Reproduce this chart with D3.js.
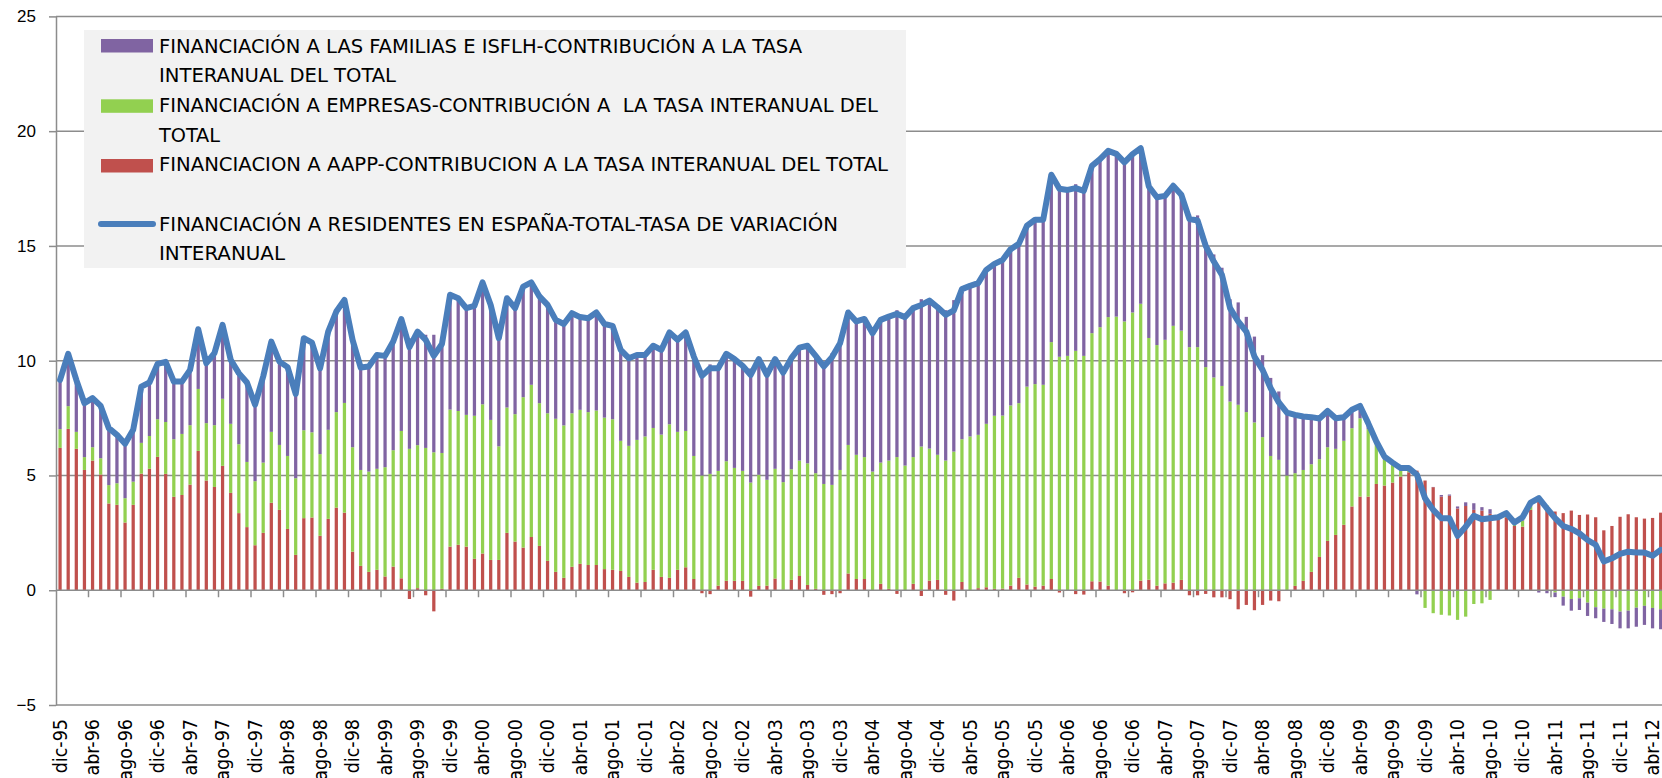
<!DOCTYPE html>
<html>
<head>
<meta charset="utf-8">
<script src="https://cdn.jsdelivr.net/npm/d3@7"></script>
<style>
  body { margin: 0; background: #fff; }
  svg { display: block; }
  text { font-family: "DejaVu Sans Condensed", "Liberation Sans Narrow", "Arial Narrow", sans-serif; }
</style>
</head>
<body>
<script>
// meses (dic-95 .. may-12) y etiquetas del eje
var monthNames = ["ene", "feb", "mar", "abr", "may", "jun", "jul", "ago", "sep", "oct", "nov", "dic"];
var tickLabels = ["dic-95","abr-96","ago-96","dic-96","abr-97","ago-97","dic-97","abr-98","ago-98","dic-98",
  "abr-99","ago-99","dic-99","abr-00","ago-00","dic-00","abr-01","ago-01","dic-01","abr-02","ago-02","dic-02",
  "abr-03","ago-03","dic-03","abr-04","ago-04","dic-04","abr-05","ago-05","dic-05","abr-06","ago-06","dic-06",
  "abr-07","ago-07","dic-07","abr-08","ago-08","dic-08","abr-09","ago-09","dic-09","abr-10","ago-10","dic-10",
  "abr-11","ago-11","dic-11","abr-12"];
var yTicks = [-5, 0, 5, 10, 15, 20, 25];

// AAPP (rojo)
var aapp = [6.20,7.03,6.16,5.24,5.65,5.04,3.78,3.72,2.95,3.72,5.08,5.29,5.81,5.07,4.07,4.15,4.60,6.07,4.78,4.50,5.42,4.24,3.36,2.75,1.96,2.50,3.81,3.50,
  2.67,1.54,3.14,3.17,2.37,3.11,3.60,3.38,1.68,1.06,0.80,0.89,0.60,1.03,0.52,-0.38,0.09,-0.22,-0.92,0.06,1.90,1.98,1.90,1.37,1.60,1.32,1.32,2.50,2.12,
  1.86,2.32,1.93,1.28,0.80,0.54,1.02,1.15,1.10,1.10,0.92,0.89,0.84,0.58,0.33,0.36,0.89,0.58,0.54,0.89,1.00,0.49,-0.13,-0.17,0.20,0.41,0.41,0.41,
  -0.28,0.19,0.20,0.51,0.02,0.45,0.62,0.23,0.06,-0.20,-0.17,-0.13,0.73,0.49,0.49,0.00,0.28,0.06,-0.16,0.00,0.28,-0.25,0.42,0.45,-0.20,-0.45,0.36,0.00,
  0.09,0.13,0.06,0.07,0.20,0.54,0.25,0.16,0.20,0.49,-0.10,-0.02,-0.17,-0.19,0.39,0.38,0.20,0.00,-0.13,-0.09,0.42,0.46,0.20,0.30,0.33,0.45,-0.22,-0.22,-0.16,
  -0.31,-0.31,-0.39,-0.83,-0.64,-0.87,-0.64,-0.45,-0.48,0.00,0.19,0.41,0.80,1.45,2.15,2.41,2.85,3.65,4.08,4.08,4.63,4.56,4.69,4.95,5.14,5.21,4.78,4.49,
  4.08,4.12,3.56,3.67,3.50,3.47,3.33,3.06,3.18,2.80,2.77,3.50,3.86,3.50,3.43,3.36,3.47,3.28,3.30,3.18,2.61,2.80,3.20,3.31,3.18,3.12,3.15,3.38];

// empresas (verde)
var empresas = [0.82,0.99,0.74,0.56,0.58,0.71,0.80,0.94,1.06,1.01,1.34,1.43,1.64,2.26,2.51,2.66,2.59,2.70,2.50,2.69,2.92,3.01,3.00,2.84,2.79,3.06,3.09,2.83,
  3.18,3.34,3.83,3.71,3.56,3.88,4.16,4.78,4.55,4.18,4.37,4.40,4.76,5.07,6.42,6.16,6.23,6.20,6.01,5.92,5.97,5.83,5.74,6.23,6.50,6.10,4.95,5.46,5.55,
  6.55,6.63,6.22,6.43,6.67,6.64,6.69,6.71,6.66,6.73,6.60,6.56,5.67,5.71,6.22,6.34,6.18,6.20,6.69,6.01,5.94,5.36,5.00,5.07,5.00,5.21,4.92,4.79,
  4.69,4.84,4.61,4.78,4.69,4.82,5.03,5.30,5.04,4.63,4.59,5.24,5.60,5.41,5.31,5.17,5.28,5.59,5.80,5.43,5.52,6.26,5.75,5.45,5.65,6.04,6.22,6.70,
  6.68,7.12,7.54,7.54,7.85,7.61,8.62,8.82,8.75,10.32,10.17,10.21,10.43,10.21,10.81,11.08,11.70,11.92,11.71,12.10,12.06,10.53,10.48,10.61,11.19,10.86,10.59,10.59,9.72,
  9.27,8.90,8.22,8.08,7.76,7.31,6.67,5.85,5.68,5.00,4.91,4.83,4.69,4.26,4.08,3.75,3.66,3.41,3.41,2.94,1.78,1.12,0.77,0.26,0.15,0.00,-0.77,-1.00,
  -1.07,-1.10,-1.29,-1.15,-0.60,-0.57,-0.42,0.07,0.10,0.15,0.26,0.15,0.25,0.20,-0.10,-0.28,-0.38,-0.35,-0.54,-0.74,-0.80,-0.83,-0.93,-0.89,-0.76,-0.68,-0.77,-0.83];

// familias e ISFLH (morado)
var familias = [2.14,2.28,2.26,2.35,2.14,2.28,2.48,2.11,2.37,2.26,2.45,2.33,2.41,2.62,2.51,2.28,2.41,2.60,2.61,3.14,3.22,2.79,3.10,3.46,3.33,3.75,3.93,3.63,
  3.87,3.67,4.01,3.91,3.74,4.28,4.38,4.49,4.68,4.46,4.58,4.96,4.85,4.74,4.87,4.81,4.95,4.93,5.12,4.75,5.00,4.91,4.65,4.79,5.31,5.01,4.71,4.76,4.62,
  4.82,4.46,4.65,4.72,4.31,4.42,4.36,4.04,4.09,4.27,4.08,4.07,3.96,3.82,3.70,3.55,3.58,3.69,4.00,4.01,4.29,4.33,4.47,4.77,4.47,4.68,4.74,4.58,
  4.97,5.04,4.57,4.78,4.77,4.84,4.92,5.12,5.11,5.32,5.73,5.65,5.77,5.81,6.02,6.03,6.22,6.27,6.40,6.47,6.49,6.42,6.45,6.43,6.55,6.60,6.54,6.56,
  6.61,6.71,6.62,6.78,6.81,6.94,7.01,7.16,7.19,7.29,7.42,7.25,7.26,7.38,7.29,7.32,7.24,7.09,7.06,6.99,6.78,6.60,6.44,6.27,6.10,5.92,5.80,5.74,5.44,
  5.36,5.15,4.46,4.46,4.15,3.74,3.57,3.40,2.98,2.74,2.54,2.33,2.05,1.77,1.58,1.33,1.03,0.80,0.54,0.26,0.07,0.14,0.10,0.11,0.03,-0.18,0.00,0.01,
  0.07,0.05,0.09,0.16,0.29,0.15,0.20,0.05,0.08,0.00,0.15,0.17,-0.10,-0.13,-0.20,-0.39,-0.51,-0.51,-0.58,-0.48,-0.58,-0.64,-0.73,-0.77,-0.83,-0.83,-0.89,-0.87];

// total, tasa de variacion interanual (linea azul)
var total = [9.16,10.30,9.16,8.15,8.37,8.03,7.06,6.77,6.38,6.99,8.87,9.05,9.86,9.95,9.09,9.09,9.60,11.37,9.89,10.33,11.56,10.04,9.46,9.05,8.08,9.31,10.83,9.96,
  9.72,8.55,10.98,10.79,9.67,11.27,12.14,12.65,10.91,9.70,9.75,10.25,10.21,10.84,11.81,10.59,11.27,10.91,10.21,10.73,12.87,12.72,12.29,12.39,13.41,12.43,10.98,12.72,12.29,
  13.23,13.41,12.80,12.43,11.78,11.60,12.07,11.90,11.85,12.10,11.60,11.52,10.47,10.11,10.25,10.25,10.65,10.47,11.23,10.91,11.23,10.18,9.34,9.67,9.67,10.30,10.07,9.78,
  9.38,10.07,9.38,10.07,9.48,10.11,10.57,10.65,10.21,9.75,10.15,10.76,12.10,11.71,11.82,11.20,11.78,11.92,12.04,11.90,12.29,12.43,12.62,12.33,12.00,12.19,13.12,13.26,
  13.38,13.96,14.22,14.39,14.86,15.09,15.88,16.14,16.14,18.10,17.49,17.44,17.52,17.40,18.49,18.78,19.14,19.01,18.64,19.00,19.26,17.59,17.12,17.18,17.62,17.23,16.17,16.11,15.00,
  14.32,13.74,12.29,11.71,11.27,10.18,9.60,8.80,8.18,7.74,7.64,7.57,7.54,7.48,7.81,7.49,7.54,7.86,8.03,7.28,6.48,5.82,5.56,5.32,5.32,5.03,4.01,3.50,
  3.14,3.14,2.37,2.77,3.24,3.09,3.14,3.18,3.36,2.95,3.18,3.82,4.01,3.57,3.14,2.80,2.67,2.48,2.19,1.98,1.25,1.39,1.58,1.68,1.64,1.64,1.50,1.76];

var legendText = [
  ["FINANCIACIÓN A LAS FAMILIAS E ISFLH-CONTRIBUCIÓN A LA TASA", "INTERANUAL DEL TOTAL"],
  ["FINANCIACIÓN A EMPRESAS-CONTRIBUCIÓN A  LA TASA INTERANUAL DEL", "TOTAL"],
  ["FINANCIACION A AAPP-CONTRIBUCION A LA TASA INTERANUAL DEL TOTAL"],
  ["FINANCIACIÓN A RESIDENTES EN ESPAÑA-TOTAL-TASA DE VARIACIÓN", "INTERANUAL"]
];

// medidas
var svg_width = 1662, svg_height = 778;
var plot_left = 56, plot_top = 16.4, plot_bottom = 705;
var step = 8.125;
var grid_color = "#8c8c8c";
var colors = { aapp: "#C0504D", empresas: "#92D050", familias: "#8064A2", total: "#4A7EBB" };

var months = d3.timeMonth.range(new Date(1995, 11, 1), new Date(2012, 5, 1));
var cats = months.map(function(m) {
  return monthNames[m.getMonth()] + "-" + String(m.getFullYear()).slice(2);
});

var rows = cats.map(function(c, i) {
  return { cat: c, aapp: aapp[i], empresas: empresas[i], familias: familias[i], total: total[i] };
});

var svg = d3.select("body").append("svg")
  .attr("width", svg_width).attr("height", svg_height);

var x = d3.scaleBand().domain(cats)
  .range([plot_left, plot_left + cats.length * step])
  .paddingInner(0.6).paddingOuter(0.3);
var y = d3.scaleLinear().domain([-5, 25]).range([plot_bottom, plot_top]);

// lineas de division
svg.append("g").selectAll("line")
  .data(yTicks.filter(function(v) { return v !== 0; }))
  .enter().append("line")
  .attr("x1", plot_left).attr("x2", svg_width)
  .attr("y1", function(d) { return y(d); }).attr("y2", function(d) { return y(d); })
  .attr("stroke", grid_color).attr("stroke-width", 1.5);

// eje y
var yAxis = svg.append("g")
  .attr("transform", "translate(" + plot_left + ",0)")
  .call(d3.axisLeft(y).tickValues(yTicks).tickSize(7).tickSizeOuter(0).tickPadding(13));
yAxis.select(".domain").attr("stroke", grid_color).attr("stroke-width", 1.5);
yAxis.selectAll(".tick line").attr("stroke", grid_color).attr("stroke-width", 1.5);
yAxis.selectAll(".tick text")
  .style("font-family", "'Liberation Sans', Arial, sans-serif")
  .attr("font-size", 17).attr("fill", "#000");

// barras apiladas
var stack = d3.stack()
  .keys(["aapp", "empresas", "familias"])
  .offset(d3.stackOffsetDiverging);
var series = stack(rows);

svg.append("g").selectAll("g")
  .data(series)
  .enter().append("g")
  .attr("fill", function(s) { return colors[s.key]; })
  .selectAll("rect")
  .data(function(s) { return s; })
  .enter().append("rect")
  .attr("x", function(d) { return x(d.data.cat); })
  .attr("width", x.bandwidth())
  .attr("y", function(d) { return y(Math.max(d[0], d[1])); })
  .attr("height", function(d) { return Math.abs(y(d[0]) - y(d[1])); });

// eje x (linea del cero, marcas cada 4 meses)
svg.append("line")
  .attr("x1", plot_left).attr("x2", svg_width)
  .attr("y1", y(0)).attr("y2", y(0))
  .attr("stroke", grid_color).attr("stroke-width", 1.5);

var tickIdx = d3.range(4, cats.length, 4);
svg.append("g").selectAll("line")
  .data(tickIdx)
  .enter().append("line")
  .attr("x1", function(k) { return x.range()[0] + k * x.step(); })
  .attr("x2", function(k) { return x.range()[0] + k * x.step(); })
  .attr("y1", y(0)).attr("y2", y(0) + 7)
  .attr("stroke", grid_color).attr("stroke-width", 1.5);

svg.append("g").selectAll("text")
  .data(tickLabels)
  .enter().append("text")
  .attr("transform", function(d) {
    return "translate(" + (x(d) + x.bandwidth() / 2) + "," + 719 + ") rotate(-90)";
  })
  .attr("dy", "0.35em")
  .attr("text-anchor", "end")
  .attr("font-size", 19.5)
  .attr("fill", "#000")
  .text(function(d) { return d; });

// linea total
var line = d3.line()
  .x(function(d) { return x(d.cat) + x.bandwidth() / 2; })
  .y(function(d) { return y(d.total); });
svg.append("path")
  .datum(rows)
  .attr("d", line)
  .attr("fill", "none")
  .attr("stroke", colors.total)
  .attr("stroke-width", 6)
  .attr("stroke-linejoin", "round")
  .attr("stroke-linecap", "round");

// leyenda
var legend = svg.append("g");
legend.append("rect")
  .attr("x", 84).attr("y", 30).attr("width", 822).attr("height", 238)
  .attr("fill", "#f2f2f2");

var legendItems = [
  { key: "familias", top: 39, base: [53.3, 82], len: [643, 237] },
  { key: "empresas", top: 99.3, base: [111.7, 141.7], len: [719, 61] },
  { key: "aapp", top: 159, base: [170.7], len: [729] },
  { key: "total", top: 224, base: [231, 260], len: [679, 126] }
];
legendItems.forEach(function(it, i) {
  if (it.key === "total") {
    legend.append("line")
      .attr("x1", 101).attr("x2", 153).attr("y1", it.top).attr("y2", it.top)
      .attr("stroke", colors.total).attr("stroke-width", 6).attr("stroke-linecap", "round");
  } else {
    legend.append("rect")
      .attr("x", 101).attr("y", it.top).attr("width", 52).attr("height", 13.5)
      .attr("fill", colors[it.key]);
  }
  legendText[i].forEach(function(t, j) {
    legend.append("text")
      .attr("x", 159).attr("y", it.base[j])
      .attr("font-size", 20).attr("fill", "#000")
      .attr("textLength", it.len[j])
      .attr("lengthAdjust", "spacingAndGlyphs")
      .style("white-space", "pre")
      .text(t);
  });
});
</script>
</body>
</html>
